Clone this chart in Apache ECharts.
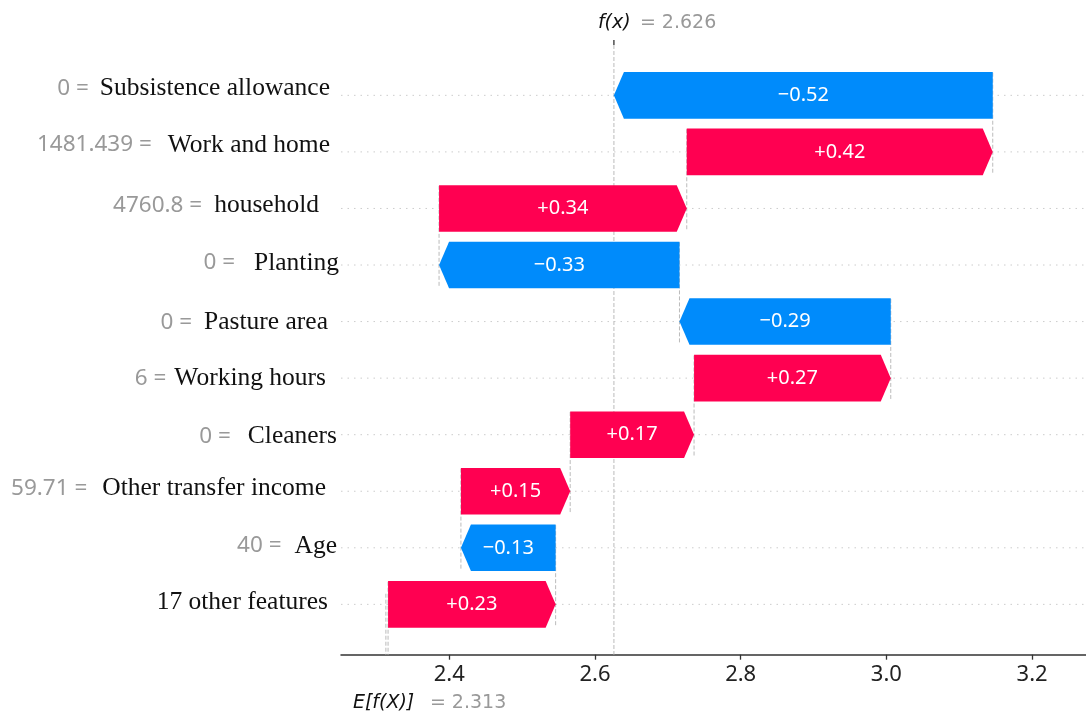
<!DOCTYPE html>
<html>
<head>
<meta charset="utf-8">
<title>SHAP waterfall</title>
<script src="https://cdn.jsdelivr.net/npm/echarts@6/dist/echarts.min.js"></script>
<style>
  html, body { margin: 0; padding: 0; background: #fff; }
  #chart { width: 1086px; height: 716px; }
</style>
</head>
<body>
<div id="chart"></div>
<script>
// Features, top row first
const featureNames = [
  'Subsistence allowance', 'Work and home', 'household', 'Planting', 'Pasture area',
  'Working hours', 'Cleaners', 'Other transfer income', 'Age', '17 other features'
];
const featureValues = ['0', '1481.439', '4760.8', '0', '0', '6', '0', '59.71', '40', ''];
const shapValues = [-0.52, 0.42, 0.34, -0.33, -0.29, 0.27, 0.17, 0.15, -0.13, 0.23];
const baseValue = 2.313;   // E[f(X)]
const outputValue = 2.626; // f(x)
const xTicks = [2.4, 2.6, 2.8, 3.0, 3.2];

// Row label fine tuning (top row first): vertical nudge, right edge, gap before the name
const labelDy = [-7, -7, -3, -2, 1, 0, 2, -3, -2, -2];
const nameRight = [330, 330, 319, 339, 328, 326, 337, 326, 337, 328];
const nameGap = [11, 16, 12, 19, 12, 8, 17, 15, 13, 0];

const RED = '#ff0051';
const BLUE = '#008bfb';
const X_MIN = 2.2514, X_MAX = 3.274;
const Y_MIN = -0.89, Y_MAX = 9.89;
const BAR_HALF = 0.412;
const HEAD_PX = 10;
const LABEL_EDGE = 339;

const n = featureNames.length;
const rowY = featureNames.map((_, i) => n - 1 - i);

// Walk down from f(x): each bar runs from its start to its end (end = running total)
const bars = [];
const connectors = [];
let loc = outputValue;
shapValues.forEach((v, i) => {
  const start = loc - v;
  bars.push([start, loc, rowY[i], v]);
  connectors.push([start, rowY[i]]);
  loc = start;
});

const fmt = v => (v >= 0 ? '+' : '\u2212') + Math.abs(v).toFixed(2);

// rich styles for each row label
const rich = {};
featureNames.forEach((_, i) => {
  const dy = labelDy[i];
  const pt = dy > 0 ? 2 * dy : 0;
  const pb = dy < 0 ? -2 * dy : 0;
  rich['v' + i] = {
    color: '#999', fontFamily: 'Noto Sans', fontSize: 22.5,
    padding: [pt, 0, pb, 0]
  };
  rich['n' + i] = {
    color: '#111', fontFamily: 'Liberation Serif', fontSize: 25.5,
    padding: [pt, LABEL_EDGE - nameRight[i], pb, featureValues[i] ? nameGap[i] : 0]
  };
});

const chart = echarts.init(document.getElementById('chart'), null, { renderer: 'canvas' });

function vline(x1, y1, x2, y2, style) {
  return { type: 'line', shape: { x1, y1, x2, y2 }, style };
}

const dashStyle = { stroke: '#bbbbbb', lineWidth: 1, lineDash: [4, 2] };

chart.setOption({
  animation: false,
  backgroundColor: '#fff',
  grid: { left: 341, right: 0, top: 45, bottom: 61.3, containLabel: false, outerBoundsMode: 'none' },
  xAxis: {
    type: 'value', min: X_MIN, max: X_MAX,
    axisLine: { show: true, onZero: false, lineStyle: { color: '#333', width: 1.5 } },
    axisTick: { show: true, customValues: xTicks, length: 5, lineStyle: { color: '#333', width: 1.3 } },
    axisLabel: {
      customValues: xTicks, formatter: v => Number(v).toFixed(1),
      color: '#222', fontFamily: 'Noto Sans', fontSize: 22, margin: 9
    },
    splitLine: { show: false }
  },
  yAxis: {
    type: 'value', min: Y_MIN, max: Y_MAX,
    axisLine: { show: false }, axisTick: { show: false }, splitLine: { show: false },
    axisLabel: {
      customValues: rowY, margin: 341 - LABEL_EDGE,
      formatter: val => {
        const i = n - 1 - Math.round(val);
        const v = featureValues[i];
        return (v ? '{v' + i + '|' + v + ' =}' : '') + '{n' + i + '|' + featureNames[i] + '}';
      },
      rich
    }
  },
  series: [
    {
      // dotted row guides
      type: 'custom', silent: true, z: 1,
      data: rowY.map(y => [y]),
      renderItem: (params, api) => {
        const y = api.value(0);
        const a = api.coord([X_MIN, y]), b = api.coord([X_MAX, y]);
        return vline(a[0], a[1], b[0], b[1], { stroke: '#cccccc', lineWidth: 1, lineDash: [1.5, 5] });
      }
    },
    {
      // dashed connectors between consecutive bars
      type: 'custom', silent: true, z: 1,
      data: connectors,
      renderItem: (params, api) => {
        const x = api.value(0), y = api.value(1);
        const a = api.coord([x, y + 0.4]), b = api.coord([x, Math.max(Y_MIN, y - 1.4)]);
        return vline(a[0], a[1], b[0], b[1], dashStyle);
      }
    },
    {
      // f(x) and E[f(X)] reference lines
      type: 'custom', silent: true, z: 1,
      data: [[outputValue, Y_MIN, Y_MAX], [baseValue, Y_MIN, Y_MIN + (Y_MAX - Y_MIN) / n]],
      renderItem: (params, api) => {
        const a = api.coord([api.value(0), api.value(2)]), b = api.coord([api.value(0), api.value(1)]);
        return vline(a[0], a[1], b[0], b[1], dashStyle);
      }
    },
    {
      // contribution arrows
      type: 'custom', silent: true, z: 3,
      data: bars,
      renderItem: (params, api) => {
        const s = api.value(0), e = api.value(1), y = api.value(2), v = api.value(3);
        const pS = api.coord([s, y]), pE = api.coord([e, y]);
        const top = api.coord([s, y + BAR_HALF])[1];
        const bot = api.coord([s, y - BAR_HALF])[1];
        const mid = pS[1];
        const dir = pE[0] >= pS[0] ? 1 : -1;
        const head = Math.min(HEAD_PX, Math.abs(pE[0] - pS[0]));
        const neck = pE[0] - dir * head;
        return {
          type: 'group',
          children: [
            {
              type: 'polygon',
              shape: { points: [[pS[0], top], [neck, top], [pE[0], mid], [neck, bot], [pS[0], bot]] },
              style: { fill: v >= 0 ? RED : BLUE }
            },
            {
              type: 'text', x: (pS[0] + pE[0]) / 2, y: mid,
              style: {
                text: fmt(v), fill: '#fff', fontFamily: 'Noto Sans', fontSize: 20,
                align: 'center', verticalAlign: 'middle'
              }
            }
          ]
        };
      }
    },
    {
      // f(x) and E[f(X)] annotations
      type: 'custom', silent: true, z: 4,
      data: [[outputValue, baseValue]],
      renderItem: (params, api) => {
        const fx = api.coord([api.value(0), Y_MAX]);
        const ex = api.coord([api.value(1), Y_MIN]);
        const txt = (x, y, text, fill, italic) => ({
          type: 'text', x, y,
          style: {
            text, fill, fontFamily: 'DejaVu Sans', fontSize: 19,
            fontStyle: italic ? 'italic' : 'normal', align: 'left', verticalAlign: 'middle'
          }
        });
        return {
          type: 'group',
          children: [
            vline(fx[0], fx[1] - 5, fx[0], fx[1], { stroke: '#333', lineWidth: 1.3 }),
            txt(fx[0] - 16, fx[1] - 22.3, 'f(x)', '#111', true),
            txt(fx[0] + 26, fx[1] - 22.3, '= ' + api.value(0).toFixed(3), '#999', false),
            txt(ex[0] - 33, ex[1] + 48, 'E[f(X)]', '#111', true),
            txt(ex[0] + 44, ex[1] + 48, '= ' + api.value(1).toFixed(3), '#999', false)
          ]
        };
      }
    }
  ]
});
</script>
</body>
</html>
